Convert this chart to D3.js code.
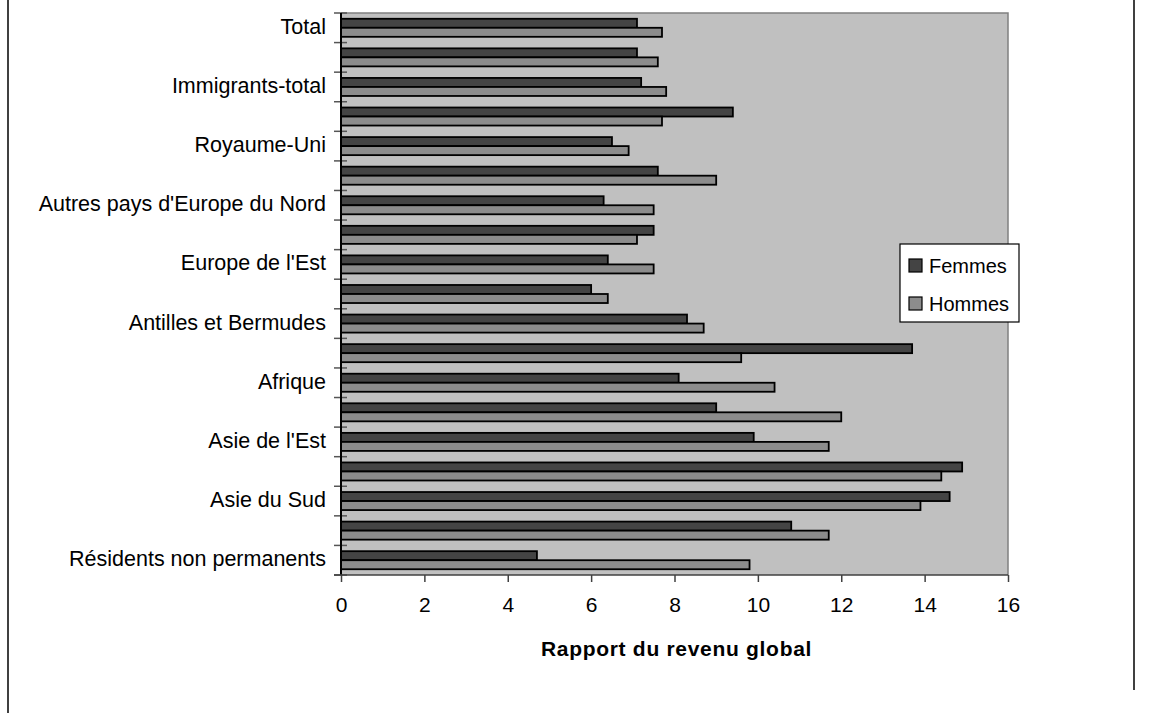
<!DOCTYPE html>
<html>
<head>
<meta charset="utf-8">
<script src="https://cdn.jsdelivr.net/npm/d3@7"></script>
<style>
  html, body { margin: 0; padding: 0; background: #fff; }
  svg { display: block; font-family: "Liberation Sans", Arial, sans-serif; }
</style>
</head>
<body>
<svg id="chart" width="1151" height="713"></svg>
<script>
// Categories, top to bottom (only every other one carries a visible label)
const categories = [
  "Total", "Non-immigrants", "Immigrants-total", "États-Unis", "Royaume-Uni",
  "Europe du Sud", "Autres pays d'Europe du Nord", "Europe de l'Ouest",
  "Europe de l'Est", "Autres pays d'Europe", "Antilles et Bermudes",
  "Amérique centrale et du Sud", "Afrique", "Asie de l'Ouest et Moyen-Orient",
  "Asie de l'Est", "Asie du Sud-Est", "Asie du Sud", "Océanie et autres",
  "Résidents non permanents"
];
const series = ["Femmes", "Hommes"];
const femmes = [7.1, 7.1, 7.2, 9.4, 6.5, 7.6, 6.3, 7.5, 6.4, 6.0, 8.3, 13.7, 8.1, 9.0, 9.9, 14.9, 14.6, 10.8, 4.7];
const hommes = [7.7, 7.6, 7.8, 7.7, 6.9, 9.0, 7.5, 7.1, 7.5, 6.4, 8.7, 9.6, 10.4, 12.0, 11.7, 14.4, 13.9, 11.7, 9.8];
const xTicks = [0, 2, 4, 6, 8, 10, 12, 14, 16];
const xTitle = "Rapport du revenu global";

const colors = { Femmes: "#444444", Hommes: "#8c8c8c" };

const svg = d3.select("#chart");
const plot = { left: 341, right: 1008, top: 13, bottom: 575 };

// Outer frame lines
svg.append("line").attr("x1", 8).attr("x2", 8).attr("y1", 0).attr("y2", 713)
  .attr("stroke", "#000").attr("stroke-width", 1.5);
svg.append("line").attr("x1", 1134).attr("x2", 1134).attr("y1", 0).attr("y2", 690)
  .attr("stroke", "#000").attr("stroke-width", 1.5);

const x = d3.scaleLinear().domain([0, 16]).range([plot.left, plot.right]);
const y = d3.scaleBand().domain(categories).range([plot.top, plot.bottom])
  .paddingInner(0.39).paddingOuter(0.195);
const ySub = d3.scaleBand().domain(series).range([0, y.bandwidth()]);

// Plot background
svg.append("rect")
  .attr("x", plot.left).attr("y", plot.top)
  .attr("width", plot.right - plot.left).attr("height", plot.bottom - plot.top)
  .attr("fill", "#c0c0c0");
// Plot border (top and right)
svg.append("path")
  .attr("d", `M${plot.left},${plot.top}H${plot.right}V${plot.bottom}`)
  .attr("fill", "none").attr("stroke", "#808080").attr("stroke-width", 1.5);

// Bars
const rows = categories.map((c, i) => ({ c, Femmes: femmes[i], Hommes: hommes[i] }));
const g = svg.append("g");
rows.forEach(r => {
  series.forEach(s => {
    g.append("rect")
      .attr("x", x(0))
      .attr("y", y(r.c) + ySub(s))
      .attr("width", x(r[s]) - x(0))
      .attr("height", ySub.bandwidth())
      .attr("fill", colors[s])
      .attr("stroke", "#000")
      .attr("stroke-width", 1.8);
  });
});

// Y axis: category boundary ticks crossing the axis line
const step = y.step();
const boundaries = d3.range(categories.length + 1).map(i => plot.top + i * step);
svg.append("g").selectAll("line").data(boundaries).join("line")
  .attr("x1", plot.left - 7).attr("x2", plot.left + 6)
  .attr("y1", d => d).attr("y2", d => d)
  .attr("stroke", "#555").attr("stroke-width", 1.5);
svg.append("line")
  .attr("x1", plot.left).attr("x2", plot.left)
  .attr("y1", plot.top).attr("y2", plot.bottom)
  .attr("stroke", "#000").attr("stroke-width", 2);

// Category labels (every other one)
svg.append("g").selectAll("text")
  .data(categories.filter((c, i) => i % 2 === 0))
  .join("text")
  .attr("x", 326)
  .attr("y", d => y(d) + y.bandwidth() / 2 - 1)
  .attr("text-anchor", "end")
  .attr("dominant-baseline", "central")
  .attr("font-size", 21.5)
  .attr("fill", "#000")
  .text(d => d);

// X axis
const xAxis = d3.axisBottom(x).tickValues(xTicks).tickSize(7).tickPadding(15).tickFormat(d3.format("d"));
const xg = svg.append("g").attr("transform", `translate(0,${plot.bottom})`).call(xAxis);
xg.select(".domain").attr("stroke", "#404040").attr("stroke-width", 1.5)
  .attr("d", `M${plot.left - 7},0H${plot.right}`);
xg.selectAll(".tick line").attr("stroke", "#404040").attr("stroke-width", 1.5);
xg.selectAll(".tick text").attr("font-size", 21).attr("fill", "#000")
  .attr("font-family", "'Liberation Sans', Arial, sans-serif");

// X axis title
svg.append("text")
  .attr("x", (plot.left + plot.right) / 2 + 2)
  .attr("y", 648)
  .attr("text-anchor", "middle")
  .attr("dominant-baseline", "central")
  .attr("font-size", 21)
  .attr("letter-spacing", 0.7)
  .attr("font-weight", "bold")
  .text(xTitle);

// Legend
const lg = svg.append("g").attr("transform", "translate(900,244)");
lg.append("rect").attr("width", 119).attr("height", 78)
  .attr("fill", "#fff").attr("stroke", "#000").attr("stroke-width", 1.2);
series.forEach((s, i) => {
  const yy = 22 + i * 38;
  lg.append("rect").attr("x", 9).attr("y", yy - 7).attr("width", 13).attr("height", 13)
    .attr("fill", colors[s]).attr("stroke", "#000").attr("stroke-width", 1.2);
  lg.append("text").attr("x", 29).attr("y", yy)
    .attr("dominant-baseline", "central")
    .attr("font-size", 20).text(s);
});
</script>
</body>
</html>
